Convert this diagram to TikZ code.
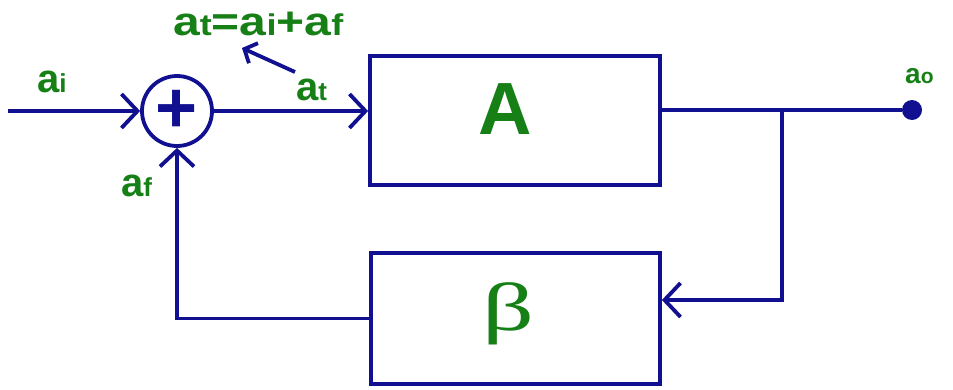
\documentclass[tikz,border=0pt]{standalone}
\usepackage{fontspec}
\setmainfont{Liberation Sans}
\newfontfamily\betafont{Liberation Serif}
\usetikzlibrary{arrows.meta}
\definecolor{ln}{RGB}{16,16,145}
\definecolor{gr}{RGB}{22,128,22}
\newcommand\lbl[3]{{\fontsize{#3}{#3}\selectfont\bfseries a}{\fontsize{26}{26}\selectfont\bfseries #1}}
\begin{document}
\begin{tikzpicture}[x=1pt,y=-1pt,
  wire/.style={draw=ln, line width=3.8pt},
  barb/.style={-{Straight Barb[length=16pt,width=34pt]}},
  smallbarb/.style={-{Straight Barb[length=10pt,width=22pt]}},
  blk/.style={draw=ln, line width=3.8pt, inner sep=0pt},
  sumnode/.style={circle, draw=ln, line width=3.8pt, minimum size=70pt, inner sep=0pt},
  lab/.style={text=gr, inner sep=0pt, anchor=base west, font=\bfseries}]
\useasboundingbox (0,0) rectangle (953,389);
% blocks
\node[blk, minimum width=290pt, minimum height=129pt] (A) at (515,120.5) {};
\node[text=gr, font=\fontsize{74}{74}\selectfont\bfseries] (Atxt) at (505.5,109.5) {A};
\node[blk, minimum width=289pt, minimum height=131pt] (B) at (515.5,318.5) {};
\node[text=gr, font=\betafont\fontsize{68}{68}\selectfont] (Btxt) at (508,314) {\scalebox{1.5}[1]{β}};
% summing junction
\node[sumnode] (sum) at (177,111) {};
\node[text=ln, font=\fontsize{72}{72}\selectfont\bfseries, inner sep=0pt] (plus) at (sum.center) {+};
% coordinates
\coordinate (in) at (8,111);
\coordinate (br) at (782,110);
\coordinate (fb) at (782,300);
\node[circle, fill=ln, minimum size=20pt, inner sep=0pt] (ao) at (912,110) {};
% connectors
\draw[wire, barb] (in) -- (sum.west);
\draw[wire, barb] (sum.east) -- (sum.east -| A.west);
\draw[wire] (A.east |- ao) -- (ao);
\draw[wire, barb] (br) -- (fb) -- (fb -| B.east);
\draw[wire, barb] (B.west) -- (B.west -| sum.south) -- (sum.south);
% labels
\node[lab] (lai) at (37,92) {\lbl{i}{}{40}};
\node[lab] (laf) at (121,196) {\lbl{f}{}{40}};
\node[lab] (lat) at (296,100) {\lbl{t}{}{40}};
\node[lab] (lao) at (905,83) {{\fontsize{28}{28}\selectfont a}{\fontsize{21}{21}\selectfont o}};
\node[lab] (eq) at (173,35) {\scalebox{1.2}[1]{\fontsize{40}{40}\selectfont a{\fontsize{30}{30}\selectfont t}=a{\fontsize{30}{30}\selectfont i}+a{\fontsize{30}{30}\selectfont f}}};
\coordinate (ptr) at (295,72);
\coordinate (ptrtip) at (242,48);
\draw[wire, smallbarb] (ptr) -- (ptrtip);
\end{tikzpicture}
\end{document}
